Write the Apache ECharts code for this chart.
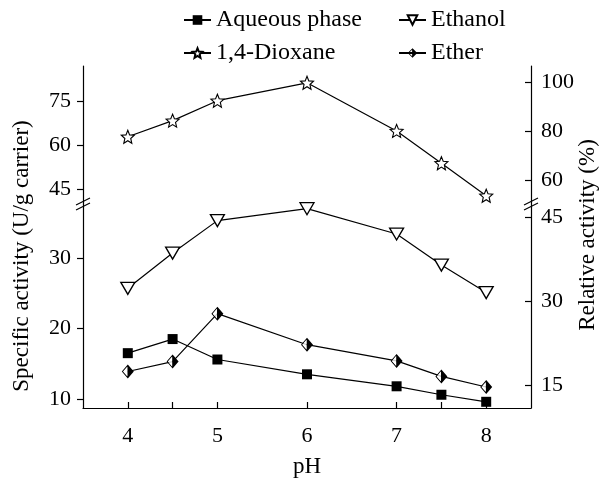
<!DOCTYPE html>
<html><head><meta charset="utf-8">
<script src="https://cdn.jsdelivr.net/npm/echarts@6/dist/echarts.min.js"></script>
<style>html,body{margin:0;padding:0;background:#fff}#c{width:602px;height:479px}</style>
</head><body><div id="c"></div>
<script>
// ---- data ----
const phValues = [4, 4.5, 5, 6, 7, 7.5, 8];
const aqueous  = [16.5, 18.5, 15.6, 13.5, 11.8, 10.6, 9.6];
const ethanol  = [25.7, 30.7, 35.3, 37.0, 33.4, 29.0, 25.1];
const dioxane  = [62.8, 68.3, 75.1, 81.2, 64.8, 53.8, 42.7];
const ether    = [13.9, 15.3, 22.1, 17.7, 15.4, 13.2, 11.7];
const xTickLabels = [4, 5, 6, 7, 8];
const xTickMarks = [4, 4.5, 5, 6, 7, 7.5, 8];
const leftUpperTicks = [45, 60, 75];
const leftLowerTicks = [10, 20, 30];
const rightUpperTicks = [60, 80, 100];
const rightLowerTicks = [15, 30, 45];

const pair = arr => phValues.map((x, i) => [x, arr[i]]);

const starPath = 'path://M50 0 L63.23 31.8 L97.55 34.55 L71.4 56.95 L79.39 90.45 L50 72.5 L20.61 90.45 L28.6 56.95 L2.45 34.55 L36.77 31.8 Z';
const downTri = 'path://M0 0 L100 0 L50 90 Z';
const halfDiamond = 'path://M50 0 L100 50 L50 100 L0 50 Z M46 15.3 L11.3 50 L46 84.7 Z';
const holePath = 'path://M46 15.3 L11.3 50 L46 84.7 Z';
const etherSize = [12, 14];

const lineStyle = {color: '#000', width: 1.2};
const labelStyle = () => ({color: '#000', fontSize: 22, fontFamily: 'Liberation Serif'});
const legendText = () => ({color: '#000', fontSize: 24, fontFamily: 'Liberation Serif'});

function yAxisCfg(grid, min, max, pos, ticks, inside, margin) {
  return {
    gridIndex: grid, type: 'value', min: min, max: max, position: pos,
    axisLine: {show: true, lineStyle: {color: '#000', width: 1.2}},
    axisTick: {show: true, inside: inside, length: 6, customValues: ticks, lineStyle: {color: '#000', width: 1.2}},
    axisLabel: Object.assign({customValues: ticks, margin: margin}, labelStyle()),
    splitLine: {show: false}
  };
}

const chart = echarts.init(document.getElementById('c'), null, {renderer: 'canvas'});
const option = {
  animation: false,
  backgroundColor: '#fff',
  textStyle: {fontFamily: 'Liberation Serif'},
  grid: [
    {left: 83, right: 71, top: 66, height: 138},
    {left: 83, right: 71, top: 204, bottom: 71}
  ],
  legend: [
    {data: ['Aqueous phase', '1,4-Dioxane'], orient: 'vertical', left: 178, top: 3,
     itemWidth: 27, itemHeight: 12, itemGap: 9, textStyle: legendText()},
    {data: ['Ethanol', 'Ether'], orient: 'vertical', left: 393, top: 3,
     itemWidth: 27, itemHeight: 12, itemGap: 9, textStyle: legendText()}
  ],
  xAxis: [
    {gridIndex: 0, type: 'value', min: 3.5, max: 8.5, show: false},
    {gridIndex: 1, type: 'value', min: 3.5, max: 8.5,
     name: 'pH', nameLocation: 'middle', nameGap: 47,
     nameTextStyle: {color: '#000', fontSize: 23, fontFamily: 'Liberation Serif'},
     axisLine: {show: true, onZero: false, lineStyle: {color: '#000', width: 1.2}},
     axisTick: {show: true, inside: true, length: 6, customValues: xTickMarks, lineStyle: {color: '#000', width: 1.2}},
     axisLabel: Object.assign({customValues: xTickLabels, margin: 17}, labelStyle()),
     splitLine: {show: false}}
  ],
  yAxis: [
    yAxisCfg(0, 39.89, 86.93, 'left', leftUpperTicks, false, 12),
    yAxisCfg(0, 50.2, 106.53, 'right', rightUpperTicks, true, 10),
    yAxisCfg(1, 8.72, 37.66, 'left', leftLowerTicks, false, 12),
    yAxisCfg(1, 10.89, 47.32, 'right', rightLowerTicks, true, 10)
  ],
  series: [
    {name: 'Aqueous phase', type: 'line', xAxisIndex: 1, yAxisIndex: 2, data: pair(aqueous),
     symbol: 'rect', symbolSize: 10, lineStyle: lineStyle, itemStyle: {color: '#000'}},
    {name: 'Ethanol', type: 'line', xAxisIndex: 1, yAxisIndex: 2, data: pair(ethanol),
     symbol: downTri, symbolSize: [14, 12], lineStyle: lineStyle,
     itemStyle: {color: '#fff', borderColor: '#000', borderWidth: 1.3}},
    {name: '1,4-Dioxane', type: 'line', xAxisIndex: 0, yAxisIndex: 0, data: pair(dioxane),
     symbol: starPath, symbolSize: 13, lineStyle: lineStyle,
     itemStyle: {color: '#fff', borderColor: '#000', borderWidth: 1.1}},
    {name: 'Ether', type: 'line', xAxisIndex: 1, yAxisIndex: 2, data: pair(ether),
     symbol: halfDiamond, symbolSize: etherSize, lineStyle: lineStyle,
     itemStyle: {color: '#000'}},
    {name: 'EtherCover', type: 'scatter', xAxisIndex: 1, yAxisIndex: 2, data: pair(ether),
     symbol: holePath, symbolSize: [etherSize[0] * 0.347, etherSize[1] * 0.694],
     symbolOffset: [-etherSize[0] * 0.2135, 0], itemStyle: {color: '#fff'}, z: 3, silent: true}
  ],
  graphic: [
    {type: 'text', x: 22, y: 256, rotation: Math.PI / 2,
     style: {text: 'Specific activity (U/g carrier)', fill: '#000', font: '23px "Liberation Serif"', align: 'center', verticalAlign: 'middle'}},
    {type: 'text', x: 588, y: 235, rotation: Math.PI / 2,
     style: {text: 'Relative activity (%)', fill: '#000', font: '23px "Liberation Serif"', align: 'center', verticalAlign: 'middle'}}
  ]
};
chart.setOption(option);

// break marks at the junction of the two grids
const pL = chart.convertToPixel({xAxisIndex: 1, yAxisIndex: 2}, [3.5, 37.66]);
const pR = chart.convertToPixel({xAxisIndex: 1, yAxisIndex: 2}, [8.5, 37.66]);
const brk = [];
[pL, pR].forEach(p => {
  [-2.5, 2.5].forEach(d => {
    brk.push({type: 'line', shape: {x1: p[0] - 7, y1: p[1] + d + 3.5, x2: p[0] + 7, y2: p[1] + d - 3.5},
              style: {stroke: '#000', lineWidth: 1.2}});
  });
});
chart.setOption({graphic: option.graphic.concat(brk)});
</script>
</body></html>
